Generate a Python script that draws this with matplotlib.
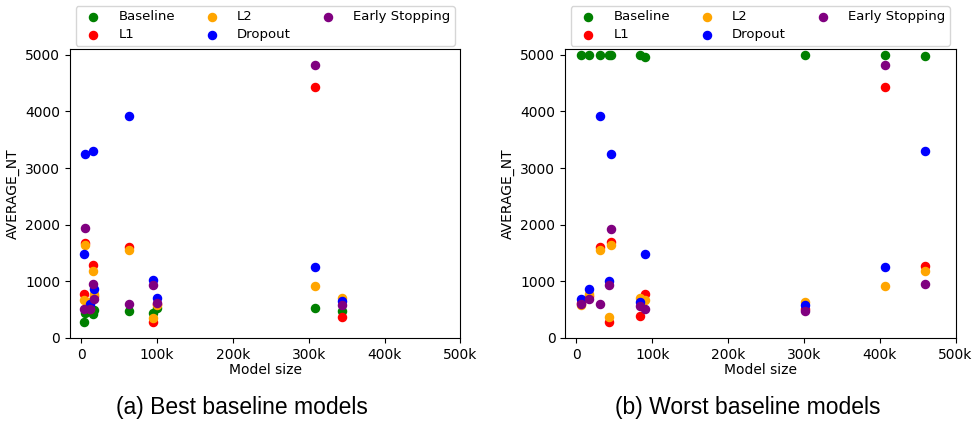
import matplotlib
matplotlib.use("Agg")
import matplotlib.pyplot as plt

# (a) best baseline models
best_size = [4000, 5300, 11500, 15000, 17000, 62600, 95000, 99500, 308000, 344000]
best_baseline = [277, 436, 470, 418, 494, 483, 436, 524, 524, 483]
best_l1 = [777, 1684, 505, 1290, 740, 1613, 277, 600, 4429, 376]
best_l2 = [671, 1648, 630, 1190, 777, 1555, 359, 590, 919, 712]
best_dropout = [1484, 3250, 601, 3310, 860, 3928, 1025, 701, 1260, 654]
best_es = [518, 1937, 507, 948, 683, 601, 936, 613, 4823, 583]

# (b) worst baseline models
worst_size = [6200, 15900, 31300, 42500, 45400, 84000, 90300, 301600, 406500, 460300]
worst_baseline = [5000, 5000, 5000, 5000, 5000, 5000, 4959, 5000, 5000, 4982]
worst_l1 = [610, 740, 1613, 277, 1690, 383, 777, 505, 4429, 1278]
worst_l2 = [590, 771, 1555, 366, 1643, 701, 671, 630, 919, 1190]
worst_dropout = [690, 871, 3928, 1010, 3251, 642, 1478, 583, 1260, 3310]
worst_es = [605, 683, 595, 931, 1931, 571, 512, 483, 4829, 948]

labels = ["Baseline", "L1", "L2", "Dropout", "Early Stopping"]
colors = ["green", "red", "orange", "blue", "purple"]
xticks = [0, 100000, 200000, 300000, 400000, 500000]
xticklabels = ["0", "100k", "200k", "300k", "400k", "500k"]

fig = plt.figure(figsize=(9.76, 4.24), dpi=100)
ax1 = fig.add_axes([0.0717, 0.203, 0.4, 0.681])
ax2 = fig.add_axes([0.579, 0.203, 0.4, 0.681])

panels = [
    (ax1, best_size, [best_baseline, best_l1, best_l2, best_dropout, best_es], "(a) Best baseline models", 0.441),
    (ax2, worst_size, [worst_baseline, worst_l1, worst_l2, worst_dropout, worst_es], "(b) Worst baseline models", 0.467),
]

for ax, size, series, caption, cx in panels:
    for vals, lab, col in zip(series, labels, colors):
        ax.scatter(size, vals, color=col, label=lab, s=34)
    ax.set_xlim(-15000, 500000)
    ax.set_ylim(0, 5100)
    ax.set_xticks(xticks)
    ax.set_xticklabels(xticklabels)
    ax.set_yticks(range(0, 5001, 1000))
    ax.tick_params(labelsize=10)
    ax.set_xlabel("Model size", fontsize=10, labelpad=1)
    ax.set_ylabel("AVERAGE_NT", fontsize=10)
    ax.legend(ncol=3, loc="lower center", bbox_to_anchor=(0.5, 1.012), fontsize=9.5,
              borderaxespad=0, columnspacing=1.8, handletextpad=0.9,
              borderpad=0.35, labelspacing=0.35)
    ax.text(cx, -0.242, caption, transform=ax.transAxes, ha="center", va="center",
            fontsize=16.5, family="Liberation Sans")

fig.savefig("out.png", dpi=100)
